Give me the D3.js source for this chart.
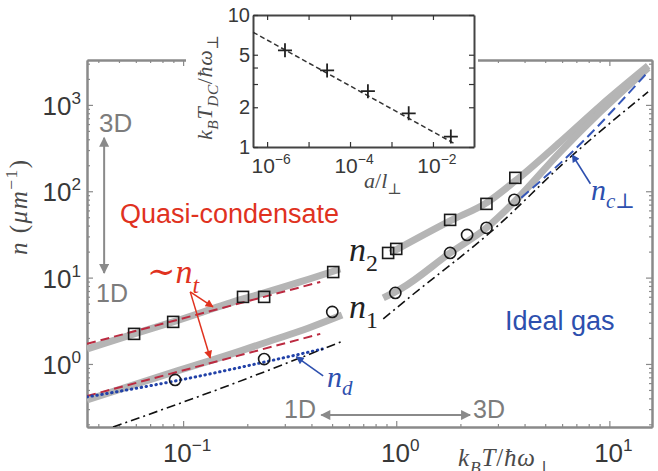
<!DOCTYPE html>
<head>
<meta charset="utf-8">
<script src="https://d3js.org/d3.v7.min.js"></script>
<style>
  body { margin:0; background:#fff; }
  svg { display:block; }
  text { font-family: "Liberation Sans", Arial, sans-serif; }
  .math { font-family: "Liberation Serif", "DejaVu Serif", serif; }
</style>
</head>
<body>
<script>
// ---- data (T in units of hbar*omega_perp, n in 1/um) ----
var sqT = [0.0589, 0.0898, 0.191, 0.240, 0.506, 0.916, 1.0, 1.79, 2.65, 3.62];
var sqN = [2.23, 3.07, 5.98, 5.98, 11.6, 19.3, 21.5, 46.6, 71.4, 143];
var ciT = [0.0917, 0.240, 0.501, 0.99, 1.79, 2.15, 2.65, 3.58];
var ciN = [0.653, 1.14, 4.0, 6.65, 19.3, 31.2, 37.7, 79.5];

// thick grey theory curves n2 and n1 (each in two pieces around the labels)
var n2aT = [0.0354, 0.0589, 0.0897, 0.191, 0.240, 0.354, 0.546];
var n2aN = [1.49, 2.23, 3.07, 5.66, 6.65, 8.91, 12.6];
var n2bT = [0.938, 1.79, 2.65, 3.62, 5.89, 9.08, 15.2];
var n2bN = [19.3, 45.4, 73.4, 132, 374, 977, 2838];
var n1aT = [0.0354, 0.0907, 0.185, 0.240, 0.354, 0.557];
var n1aN = [0.383, 0.808, 1.41, 1.75, 2.41, 3.70];
var n1bT = [0.869, 1.05, 1.79, 2.65, 3.58, 5.89, 9.08, 15.2];
var n1bN = [5.82, 7.40, 19.3, 37.7, 75.4, 286, 832, 2690];

// ~n_t (red dashed), n_d (blue dotted), ideal gas (dash-dot), n_c_perp (blue dashed)
var ntUpT = [0.0354, 0.440], ntUpN = [1.71, 8.91];
var ntLoT = [0.0354, 0.440], ntLoN = [0.426, 2.23];
var ndT = [0.0354, 0.0917, 0.240, 0.450];
var ndN = [0.415, 0.635, 1.05, 1.49];
var idAT = [0.0469, 0.161, 0.564], idAN = [0.186, 0.556, 1.85];
var idBT = [0.869, 1.16, 2.85, 6.35, 15.2], idBN = [3.32, 5.98, 35.7, 231, 1419];
var ncT = [3.86, 6.78, 15.2], ncN = [83.9, 294, 2420];

// inset: crossover temperature vs a/l_perp
var inA = [2.7e-6, 2.8e-5, 2.7e-4, 2.6e-3, 2.7e-2];
var inTdc = [5.4, 3.8, 2.65, 1.8, 1.2];
var fitA = [4.6e-7, 3.5e-2], fitT = [7.4, 1.05];

var xMajorLabels = [[0.1, "\u22121"], [1, "0"], [10, "1"]];
var yMajorLabels = [[1, "0"], [10, "1"], [100, "2"], [1000, "3"]];
var inXLabels = [[1e-6, "\u22126"], [1e-4, "\u22124"], [1e-2, "\u22122"]];
var inYTicks = [1, 2, 3, 4, 5, 10];
var inYLabels = [1, 2, 5, 10];

var W = 658, H = 471;
var gridCol = "#8a8a8a", labCol = "#383838";
var red = "#e0321f", redDash = "#bb2a40", blue = "#2d4fae";

var svg = d3.select("body").append("svg").attr("width", W).attr("height", H);
var defs = svg.append("defs");

var x = d3.scaleLog().domain([0.0354, 15.85]).range([87, 652]);
var y = d3.scaleLog().domain([0.1862, 3311]).range([427, 60]);

defs.append("clipPath").attr("id", "plot")
  .append("rect").attr("x", 87).attr("y", 60).attr("width", 565).attr("height", 367);

function arrowMarker(id, color, len, wid) {
  defs.append("marker").attr("id", id)
    .attr("viewBox", "0 0 10 10").attr("refX", 9).attr("refY", 5)
    .attr("markerWidth", len).attr("markerHeight", wid)
    .attr("markerUnits", "userSpaceOnUse").attr("orient", "auto-start-reverse")
    .append("path").attr("d", "M0,0L10,5L0,10z").attr("fill", color);
}
arrowMarker("agray", gridCol, 13, 10);
arrowMarker("ared", red, 11, 8);
arrowMarker("ablue", blue, 11, 8);

var isMajor = function(d) { var l = Math.log10(d); return Math.abs(l - Math.round(l)) < 1e-6; };

// ---- main axes (ticks inward on all four sides) ----
function axes(sc, list) {
  var maj = sc.ticks().filter(isMajor), min = sc.ticks().filter(function(d) { return !isMajor(d); });
  list.forEach(function(a) {
    [[min, -3], [maj, -6]].forEach(function(t) {
      svg.append("g").attr("transform", a[1])
        .call(a[0](sc).tickValues(t[0]).tickSize(t[1]).tickSizeOuter(0).tickFormat(""))
        .call(function(g) {
          g.selectAll("line").attr("stroke", gridCol).attr("stroke-width", 1.2);
          g.select(".domain").attr("stroke", gridCol).attr("stroke-width", 2);
        });
    });
  });
}
axes(x, [[d3.axisBottom, "translate(0,427)"], [d3.axisTop, "translate(0,60)"]]);
axes(y, [[d3.axisLeft, "translate(87,0)"], [d3.axisRight, "translate(652,0)"]]);

function pow10(sel, exp, fs) {
  sel.append("tspan").text("10");
  sel.append("tspan").attr("font-size", fs * 0.66).attr("dy", -fs * 0.42).text(exp);
}
xMajorLabels.forEach(function(d) {
  svg.append("text").attr("x", x(d[0]) + 4).attr("y", 462).attr("text-anchor", "middle")
    .attr("font-size", 26).attr("fill", labCol).call(pow10, d[1], 26);
});
yMajorLabels.forEach(function(d) {
  svg.append("text").attr("x", 81).attr("y", y(d[0]) + 10).attr("text-anchor", "end")
    .attr("font-size", 26).attr("fill", labCol).call(pow10, d[1], 26);
});

// rich math text: parts = [text, mode(""|"sub"|"sup"), italic]
function rich(sel, parts, fs) {
  var cur = 0;
  parts.forEach(function(p) {
    var shift = p[1] === "sub" ? fs * 0.28 : p[1] === "sup" ? -fs * 0.42 : 0;
    sel.append("tspan").attr("dy", shift - cur)
      .attr("font-size", p[1] ? fs * 0.7 : fs)
      .attr("font-style", p[2] ? "italic" : "normal").text(p[0]);
    cur = shift;
  });
}

svg.append("text").attr("class", "math").attr("transform", "translate(27,255) rotate(-90)")
  .attr("letter-spacing", 1.5).attr("fill", "#4a4a4a")
  .call(rich, [["n", "", 1], [" (", "", 0], ["\u03bc", "", 1], ["m", "", 1], ["\u22121", "sup", 0], [")", "", 0]], 25);
svg.append("text").attr("class", "math").attr("x", 458).attr("y", 466)
  .attr("letter-spacing", 0.8).attr("fill", "#4a4a4a")
  .call(rich, [["k", "", 1], ["B", "sub", 1], ["T", "", 1], ["/", "", 0], ["\u0127", "", 1], ["\u03c9", "", 1], ["\u22a5", "sub", 0]], 25);

// ---- theory curves ----
var line = d3.line().x(function(d) { return x(d[0]); }).y(function(d) { return y(d[1]); })
  .curve(d3.curveMonotoneX);
function zip(a, b) { return a.map(function(v, i) { return [v, b[i]]; }); }
var plot = svg.append("g").attr("clip-path", "url(#plot)");

[[n2aT, n2aN], [n2bT, n2bN], [n1aT, n1aN], [n1bT, n1bN]].forEach(function(c) {
  plot.append("path").attr("d", line(zip(c[0], c[1]))).attr("fill", "none")
    .attr("stroke", "#b5b5b5").attr("stroke-width", 7);
});
[[ntUpT, ntUpN], [ntLoT, ntLoN]].forEach(function(c) {
  plot.append("path").attr("d", line(zip(c[0], c[1]))).attr("fill", "none")
    .attr("stroke", redDash).attr("stroke-width", 2).attr("stroke-dasharray", "9,5");
});
plot.append("path").attr("d", line(zip(ndT, ndN))).attr("fill", "none")
  .attr("stroke", "#2242a8").attr("stroke-width", 3).attr("stroke-linecap", "round")
  .attr("stroke-dasharray", "0.5,4.5");
[[idAT, idAN], [idBT, idBN]].forEach(function(c) {
  plot.append("path").attr("d", line(zip(c[0], c[1]))).attr("fill", "none")
    .attr("stroke", "#111").attr("stroke-width", 1.6).attr("stroke-dasharray", "9,4,2,4");
});
plot.append("path").attr("d", line(zip(ncT, ncN))).attr("fill", "none")
  .attr("stroke", "#3557b8").attr("stroke-width", 2).attr("stroke-dasharray", "10,5");

// ---- data markers ----
plot.selectAll("rect.sq").data(zip(sqT, sqN)).enter().append("rect")
  .attr("x", function(d) { return x(d[0]) - 5.5; }).attr("y", function(d) { return y(d[1]) - 5.5; })
  .attr("width", 11).attr("height", 11).attr("fill", "none").attr("stroke", "#1a1a1a").attr("stroke-width", 1.6);
plot.selectAll("circle.ci").data(zip(ciT, ciN)).enter().append("circle")
  .attr("cx", function(d) { return x(d[0]); }).attr("cy", function(d) { return y(d[1]); })
  .attr("r", 5.6).attr("fill", "none").attr("stroke", "#1a1a1a").attr("stroke-width", 1.6);

// ---- annotations ----
var arrows = [
  { from: [0.0426, 416], to: [0.0426, 11.3], both: true, m: "agray", c: gridCol, w: 2 },
  { from: [0.445, 0.256], to: [2.22, 0.256], both: true, m: "agray", c: gridCol, w: 2 },
  { from: [0.108, 6.83], to: [0.138, 4.58], m: "ared", c: red, w: 1.5 },
  { from: [0.108, 6.83], to: [0.134, 1.17], m: "ared", c: red, w: 1.5 },
  { from: [0.454, 0.726], to: [0.340, 1.21], m: "ablue", c: blue, w: 1.6 },
  { from: [8.15, 122], to: [6.70, 264], m: "ablue", c: blue, w: 1.6 }
];
arrows.forEach(function(a) {
  var l = svg.append("line").attr("x1", x(a.from[0])).attr("y1", y(a.from[1]))
    .attr("x2", x(a.to[0])).attr("y2", y(a.to[1]))
    .attr("stroke", a.c).attr("stroke-width", a.w).attr("marker-end", "url(#" + a.m + ")");
  if (a.both) l.attr("marker-start", "url(#" + a.m + ")");
});

var words = [
  ["3D", 99, 132, 26, "#7c7c7c"], ["1D", 96, 302, 25, "#7c7c7c"],
  ["1D", 284, 418, 25, "#7c7c7c"], ["3D", 473, 418, 25, "#7c7c7c"],
  ["Quasi-condensate", 120, 223, 27, red], ["Ideal gas", 505, 330, 27, blue]
];
words.forEach(function(w) {
  svg.append("text").attr("x", w[1]).attr("y", w[2]).attr("font-size", w[3]).attr("fill", w[4]).text(w[0]);
});

var mathLabels = [
  { x: 349, y: 261, c: "#222", p: [["n", "", 1], ["2", "sub", 0]] },
  { x: 349, y: 318, c: "#222", p: [["n", "", 1], ["1", "sub", 0]] },
  { x: 147, y: 283, c: red, p: [["\u223c", "", 0], ["n", "", 1], ["t", "sub", 1]] },
  { x: 327, y: 387, c: blue, fs: 30, p: [["n", "", 1], ["d", "sub", 1]] },
  { x: 591, y: 200, c: blue, fs: 30, p: [["n", "", 1], ["c", "sub", 1], ["\u22a5", "sub", 0]] }
];
mathLabels.forEach(function(m) {
  svg.append("text").attr("class", "math").attr("x", m.x).attr("y", m.y).attr("fill", m.c)
    .call(rich, m.p, m.fs || 34);
});

// ---- inset ----
var ix = d3.scaleLog().domain([4.57e-7, 0.0977]).range([253, 474]);
var iy = d3.scaleLog().domain([1, 10]).range([147, 15]);
svg.append("rect").attr("x", 186).attr("y", 0).attr("width", 292).attr("height", 195).attr("fill", "#fff");

var inset = svg.append("g");
var decades = ix.ticks().filter(isMajor);
[[d3.axisBottom, "translate(0,147)"], [d3.axisTop, "translate(0,15)"]].forEach(function(a) {
  inset.append("g").attr("transform", a[1])
    .call(a[0](ix).tickValues(decades).tickSize(-5).tickSizeOuter(0).tickFormat(""));
});
[[d3.axisLeft, "translate(253,0)"], [d3.axisRight, "translate(474,0)"]].forEach(function(a) {
  inset.append("g").attr("transform", a[1])
    .call(a[0](iy).tickValues(inYTicks).tickSize(-5).tickSizeOuter(0).tickFormat(""));
});
inset.selectAll("line").attr("stroke", "#333").attr("stroke-width", 1.2);
inset.selectAll(".domain").attr("stroke", "#444").attr("stroke-width", 2);

inset.append("path").attr("d", d3.line().x(function(d) { return ix(d[0]); }).y(function(d) { return iy(d[1]); })(zip(fitA, fitT)))
  .attr("fill", "none").attr("stroke", "#333").attr("stroke-width", 1.5).attr("stroke-dasharray", "5,3");
inset.selectAll("path.plus").data(zip(inA, inTdc)).enter().append("path")
  .attr("d", function(d) {
    var px = ix(d[0]), py = iy(d[1]);
    return "M" + (px - 7) + "," + py + "H" + (px + 7) + "M" + px + "," + (py - 7) + "V" + (py + 7);
  })
  .attr("stroke", "#222").attr("stroke-width", 1.8);

inXLabels.forEach(function(d) {
  inset.append("text").attr("x", ix(d[0]) + 4).attr("y", 173).attr("text-anchor", "middle")
    .attr("font-size", 21).attr("fill", labCol).call(pow10, d[1], 21);
});
inYLabels.forEach(function(d) {
  inset.append("text").attr("x", 250).attr("y", iy(d) + 7).attr("text-anchor", "end")
    .attr("font-size", 20).attr("fill", labCol).text(d);
});
inset.append("text").attr("class", "math").attr("x", 364).attr("y", 188).attr("fill", "#4a4a4a")
  .call(rich, [["a", "", 1], ["/", "", 0], ["l", "", 1], ["\u22a5", "sub", 0]], 22);
inset.append("text").attr("class", "math").attr("transform", "translate(212,140) rotate(-90)")
  .attr("letter-spacing", 0.6).attr("fill", "#4a4a4a")
  .call(rich, [["k", "", 1], ["B", "sub", 1], ["T", "", 1], ["DC", "sub", 1], ["/", "", 0],
               ["\u0127", "", 1], ["\u03c9", "", 1], ["\u22a5", "sub", 0]], 22);
</script>
</body>
